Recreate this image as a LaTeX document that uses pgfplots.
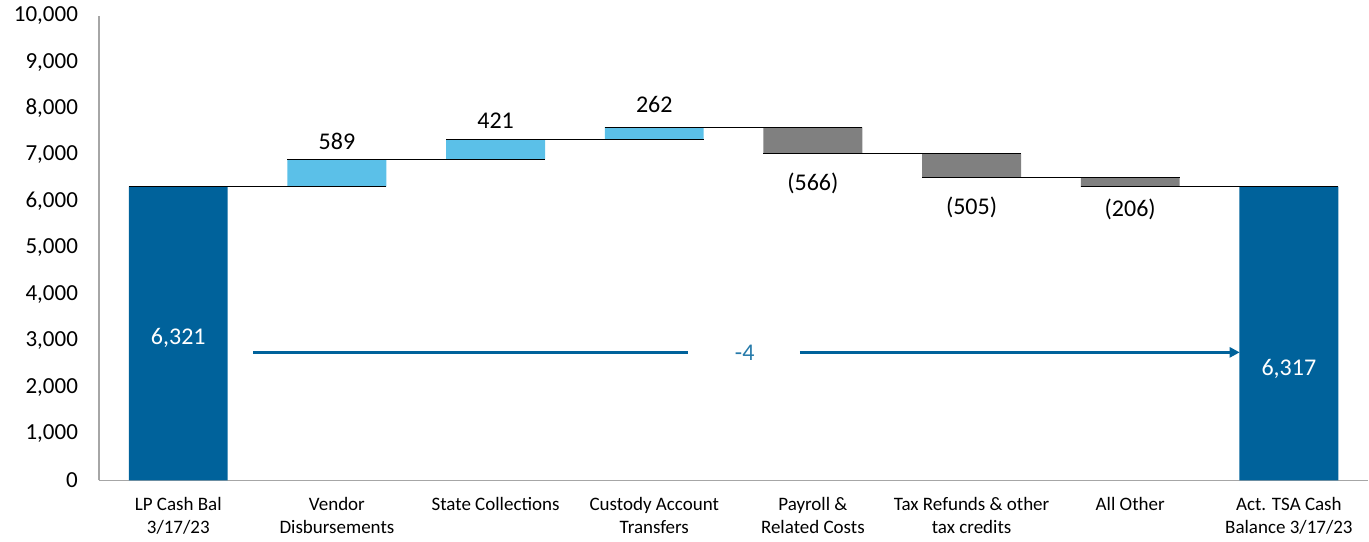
\documentclass[border=0pt]{standalone}
\usepackage{pgfplots}
\pgfplotsset{compat=1.18}
\usepackage{fontspec}
\setmainfont{Carlito}
\usetikzlibrary{arrows.meta}
\definecolor{dkblue}{HTML}{00629B}
\definecolor{ltblue}{HTML}{5BC0E8}
\definecolor{grbar}{HTML}{808080}
\definecolor{axgray}{HTML}{A6A6A6}
\begin{document}
\begin{tikzpicture}
\pgfplotsset{
  common/.style={
    scale only axis, width=635pt, height=232.5pt,
    xmin=-0.5, xmax=7.5, ymin=0, ymax=10000,
    at={(0,0)}, anchor=south west,
  },
}
\tikzset{lab/.style={font=\fontsize{12}{14}\selectfont, inner sep=0pt}}
\begin{axis}[common,
  ybar stacked, bar width=49.5pt,
  axis x line=bottom, axis y line=left,
  axis line style={-, draw=axgray, line width=0.8pt},
  xtick={0,...,7},
  xticklabels={{LP Cash Bal\\3/17/23},{Vendor\\Disbursements},{State Collections},{Custody Account\\Transfers},{Payroll \&\\Related Costs},{Tax Refunds \& other\\tax credits},{All Other},{Act. TSA Cash\\Balance 3/17/23}},
  xticklabel style={align=center, anchor=north, font=\fontsize{9.5}{11.5}\selectfont, yshift=-5pt},
  ytick={0,1000,...,10000},
  scaled y ticks=false,
  /pgf/number format/1000 sep={,},
  /pgf/number format/assume math mode=true,
  yticklabel style={font=\fontsize{11.5}{13}\selectfont, xshift=-7pt},
  major tick length=0pt,
]
\addplot[draw=none, fill=none] coordinates {(0,0) (1,6321) (2,6910) (3,7331) (4,7027) (5,6522) (6,6316) (7,0)};
\addplot[draw=none, fill=dkblue] coordinates {(0,6321) (1,0) (2,0) (3,0) (4,0) (5,0) (6,0) (7,6317)};
\addplot[draw=none, fill=ltblue] coordinates {(0,0) (1,589) (2,421) (3,262) (4,0) (5,0) (6,0) (7,0)};
\addplot[draw=none, fill=grbar] coordinates {(0,0) (1,0) (2,0) (3,0) (4,566) (5,505) (6,206) (7,0)};
\end{axis}
\begin{axis}[common, hide axis, clip=false]
\addplot[black, line width=0.6pt] coordinates {(-0.312,6321) (1.312,6321)};
\addplot[black, line width=0.6pt] coordinates {(0.688,6910) (2.312,6910)};
\addplot[black, line width=0.6pt] coordinates {(1.688,7331) (3.312,7331)};
\addplot[black, line width=0.6pt] coordinates {(2.688,7593) (4.312,7593)};
\addplot[black, line width=0.6pt] coordinates {(3.688,7027) (5.312,7027)};
\addplot[black, line width=0.6pt] coordinates {(4.688,6522) (6.312,6522)};
\addplot[black, line width=0.6pt] coordinates {(5.688,6316) (7.312,6316)};
\addplot[dkblue, line width=1.5pt] coordinates {(0.473,2753) (3.213,2753)};
\addplot[dkblue, line width=1.5pt, -{Triangle[length=5pt,width=5pt]}] coordinates {(3.918,2753) (6.69,2753)};
\node[lab] at (axis cs:1,7290) {589};
\node[lab] at (axis cs:2,7742) {421};
\node[lab] at (axis cs:3,8086) {262};
\node[lab] at (axis cs:4,6387) {(566)};
\node[lab] at (axis cs:5,5871) {(505)};
\node[lab] at (axis cs:6,5828) {(206)};
\node[lab, text=white] at (axis cs:0,3054) {6,321};
\node[lab, text=white] at (axis cs:7,2387) {6,317};
\node[lab, text=dkblue!85] at (axis cs:3.57,2753) {-4};
\end{axis}
\path (-49.5pt,-30pt) rectangle (635pt,240pt);
\end{tikzpicture}
\end{document}
